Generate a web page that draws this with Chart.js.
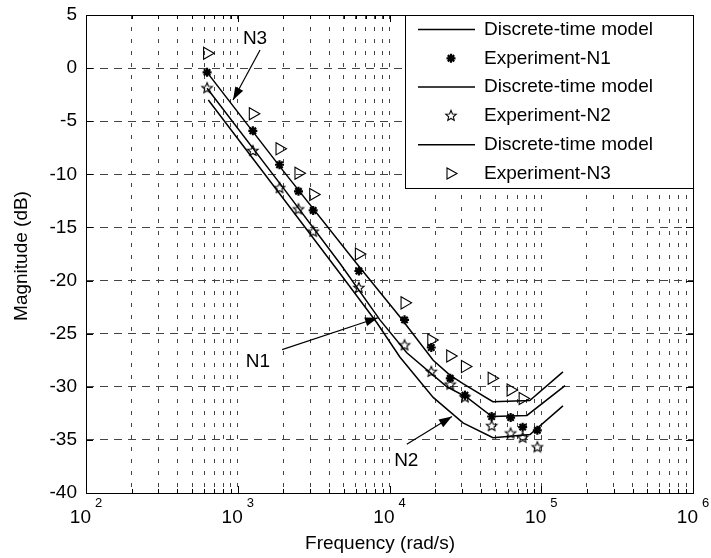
<!DOCTYPE html>
<html>
<head>
<meta charset="utf-8">
<script src="https://cdn.jsdelivr.net/npm/chart.js"></script>
<style>
html, body { margin: 0; padding: 0; background: #fff; }
#wrap { width: 711px; height: 558px; }
</style>
</head>
<body>
<div id="wrap"><canvas id="bode" width="711" height="558"></canvas></div>
<script>
// measured points (frequency in rad/s, magnitude in dB)
const expFreq = [628, 1257, 1885, 2513, 3142, 6283, 12566, 18850, 25133, 31416, 47124, 62832, 75398, 94248];
const expN1 = [-0.4, -5.9, -9.1, -11.6, -13.4, -19.1, -23.7, -26.3, -29.2, -30.8, -32.8, -32.9, -33.8, -34.1];
const expN2 = [-1.9, -7.8, -11.3, -13.3, -15.4, -20.7, -26.1, -28.6, -29.8, -31.0, -33.7, -34.4, -34.8, -35.7];
const expN3 = [1.4, -4.3, -7.6, -9.9, -11.9, -17.5, -22.1, -25.6, -27.1, -28.1, -29.2, -30.3, -31.1];

// discrete-time model curves
const modelFreqN1 = [628, 2000, 4720, 8650, 13000, 23900, 32400, 47300, 80500, 143500];
const modelN1 = [-1.9, -11.3, -18.4, -23.7, -26.8, -30.0, -31.0, -32.8, -32.7, -29.9];
const modelFreqN2 = [640, 2000, 5000, 8280, 11700, 19400, 30500, 48100, 84300, 139000];
const modelN2 = [-3.0, -12.3, -19.8, -24.0, -27.2, -31.0, -33.4, -34.8, -34.5, -31.8];
const modelFreqN3 = [628, 2000, 6000, 11700, 19400, 25000, 30500, 48000, 84000, 139000];
const modelN3 = [-0.4, -9.7, -18.3, -23.4, -27.5, -28.9, -29.7, -31.4, -31.3, -28.6];

// axes
const yTicks = [5, 0, -5, -10, -15, -20, -25, -30, -35, -40];
const xExponents = [2, 3, 4, 5, 6];
const legendLabels = ['Discrete-time model', 'Experiment-N1', 'Discrete-time model', 'Experiment-N2', 'Discrete-time model', 'Experiment-N3'];

// N1/N2/N3 labels with arrows (data coordinates)
const notes = [
    { text: 'N3', at: [1300, 2.8], from: [1403, 1.7], to: [931, -3.0] },
    { text: 'N1', at: [1360, -27.6], from: [1960, -26.5], to: [8400, -23.5] },
    { text: 'N2', at: [12900, -37.0], from: [13000, -35.4], to: [25800, -32.8] }
];

const FONT = '"Liberation Sans", Arial, sans-serif';

function pts(xs, ys) {
    return ys.map((v, i) => ({ x: xs[i], y: v }));
}

// hollow five-pointed star for N2
function pentagram(r, lw) {
    const c = document.createElement('canvas');
    const s = Math.ceil(2 * r + 2 * lw + 2);
    c.width = c.height = s;
    const g = c.getContext('2d');
    g.beginPath();
    for (let i = 0; i < 10; i++) {
        const rr = i % 2 ? r * 0.45 : r;
        const ang = -Math.PI / 2 + i * Math.PI / 5;
        g.lineTo(s / 2 + rr * Math.cos(ang), s / 2 + rr * Math.sin(ang));
    }
    g.closePath();
    g.lineWidth = lw;
    g.strokeStyle = '#000';
    g.stroke();
    return c;
}
const starImg = pentagram(5.5, 1.1);

function drawMarker(ctx, kind, x, y) {
    ctx.save();
    ctx.strokeStyle = '#000';
    if (kind === 'star') {
        ctx.lineWidth = 2.2;
        ctx.beginPath();
        for (let k = 0; k < 4; k++) {
            const a = k * Math.PI / 4;
            ctx.moveTo(x - 4.5 * Math.cos(a), y - 4.5 * Math.sin(a));
            ctx.lineTo(x + 4.5 * Math.cos(a), y + 4.5 * Math.sin(a));
        }
        ctx.stroke();
    } else if (kind === 'pent') {
        ctx.drawImage(starImg, x - starImg.width / 2, y - starImg.height / 2);
    } else if (kind === 'tri') {
        ctx.lineWidth = 1.1;
        ctx.beginPath();
        ctx.moveTo(x + 6, y);
        ctx.lineTo(x - 4, y - 5.5);
        ctx.lineTo(x - 4, y + 5.5);
        ctx.closePath();
        ctx.stroke();
    } else {
        ctx.lineWidth = 1.5;
        ctx.beginPath();
        ctx.moveTo(x - 33, y);
        ctx.lineTo(x + 24, y);
        ctx.stroke();
    }
    ctx.restore();
}

// box, ticks, labels, legend and notes
const frame = {
    id: 'frame',
    afterDraw(chart) {
        const { ctx, chartArea: a, scales: { x, y } } = chart;
        ctx.save();
        ctx.strokeStyle = '#000';
        ctx.lineWidth = 1;
        ctx.strokeRect(a.left + 0.5, a.top + 0.5, a.right - a.left, a.bottom - a.top);

        // inward tick marks
        ctx.beginPath();
        x.ticks.forEach(t => {
            const px = Math.round(x.getPixelForValue(t.value)) + 0.5;
            const len = t.major ? 7 : 4;
            ctx.moveTo(px, a.bottom); ctx.lineTo(px, a.bottom - len);
            ctx.moveTo(px, a.top); ctx.lineTo(px, a.top + len);
        });
        yTicks.forEach(v => {
            const py = Math.round(y.getPixelForValue(v)) + 0.5;
            ctx.moveTo(a.left, py); ctx.lineTo(a.left + 7, py);
            ctx.moveTo(a.right, py); ctx.lineTo(a.right - 7, py);
        });
        ctx.stroke();

        ctx.fillStyle = '#000';
        ctx.font = '19px ' + FONT;
        ctx.textAlign = 'right';
        ctx.textBaseline = 'middle';
        yTicks.forEach(v => ctx.fillText(String(v), a.left - 9, y.getPixelForValue(v)));

        xExponents.forEach(e => {
            const px = x.getPixelForValue(Math.pow(10, e));
            ctx.font = '19px ' + FONT;
            ctx.textAlign = 'right';
            ctx.fillText('10', px + 5, 518);
            ctx.font = '13px ' + FONT;
            ctx.textAlign = 'left';
            ctx.fillText(String(e), px + 9, 503);
        });

        ctx.font = '19px ' + FONT;
        ctx.textAlign = 'center';
        ctx.fillText('Frequency (rad/s)', 380, 544);
        ctx.save();
        ctx.translate(22, 256);
        ctx.rotate(-Math.PI / 2);
        ctx.fillText('Magnitude (dB)', 0, 0);
        ctx.restore();

        // legend
        const lx = 405, ly = a.top, lw = a.right - lx, lh = 173;
        ctx.fillStyle = '#fff';
        ctx.fillRect(lx, ly, lw, lh);
        ctx.strokeRect(lx + 0.5, ly + 0.5, lw, lh);
        const kinds = ['line', 'star', 'line', 'pent', 'line', 'tri'];
        ctx.fillStyle = '#000';
        ctx.textAlign = 'left';
        legendLabels.forEach((lab, i) => {
            const ry = ly + 14.5 + i * 28.8;
            drawMarker(ctx, kinds[i], 451, ry);
            ctx.fillText(lab, 484, ry);
        });

        // notes with arrows
        notes.forEach(n => {
            const tx = x.getPixelForValue(n.at[0]), ty = y.getPixelForValue(n.at[1]);
            const fx = x.getPixelForValue(n.from[0]), fy = y.getPixelForValue(n.from[1]);
            const hx = x.getPixelForValue(n.to[0]), hy = y.getPixelForValue(n.to[1]);
            ctx.textAlign = 'center';
            ctx.fillText(n.text, tx, ty);
            ctx.lineWidth = 1.2;
            ctx.beginPath();
            ctx.moveTo(fx, fy); ctx.lineTo(hx, hy);
            ctx.stroke();
            const ang = Math.atan2(hy - fy, hx - fx);
            ctx.beginPath();
            ctx.moveTo(hx, hy);
            ctx.lineTo(hx - 13 * Math.cos(ang) + 4.5 * Math.sin(ang), hy - 13 * Math.sin(ang) - 4.5 * Math.cos(ang));
            ctx.lineTo(hx - 13 * Math.cos(ang) - 4.5 * Math.sin(ang), hy - 13 * Math.sin(ang) + 4.5 * Math.cos(ang));
            ctx.closePath();
            ctx.fill();
        });
        ctx.restore();
    }
};

const modelStyle = { showLine: true, borderColor: '#000', borderWidth: 1.5, pointRadius: 0, tension: 0, fill: false };

new Chart(document.getElementById('bode'), {
    type: 'scatter',
    data: {
        datasets: [
            { label: legendLabels[0], data: pts(modelFreqN1, modelN1), ...modelStyle },
            { label: legendLabels[1], data: pts(expFreq, expN1), pointStyle: 'star', pointRadius: 4.5,
              borderColor: '#000', borderWidth: 2.2, backgroundColor: '#000' },
            { label: legendLabels[2], data: pts(modelFreqN2, modelN2), ...modelStyle },
            { label: legendLabels[3], data: pts(expFreq, expN2), pointStyle: starImg, pointRadius: 5 },
            { label: legendLabels[4], data: pts(modelFreqN3, modelN3), ...modelStyle },
            { label: legendLabels[5], data: pts(expFreq, expN3), pointStyle: 'triangle', pointRotation: 90,
              pointRadius: 7, borderColor: '#000', borderWidth: 1.1, backgroundColor: 'rgba(0,0,0,0)' }
        ]
    },
    options: {
        responsive: false,
        animation: false,
        layout: { padding: { left: 86, top: 15, right: 18, bottom: 65 } },
        plugins: { legend: { display: false }, tooltip: { enabled: false } },
        scales: {
            x: {
                type: 'logarithmic', min: 100, max: 1e6,
                ticks: { display: false },
                grid: { color: '#444', lineWidth: 1, drawTicks: false },
                border: { display: false, dash: [4, 8] },
                afterBuildTicks(scale) {
                    const t = [];
                    for (let e = 2; e <= 5; e++) {
                        for (let m = 1; m <= 9; m++) t.push({ value: m * Math.pow(10, e), major: m === 1 });
                    }
                    t.push({ value: 1e6, major: true });
                    scale.ticks = t;
                },
                afterFit(scale) { scale.height = 0; }
            },
            y: {
                min: -40, max: 5,
                ticks: { display: false, stepSize: 5 },
                grid: { color: '#444', lineWidth: 1, drawTicks: false },
                border: { display: false, dash: [8, 6] },
                afterFit(scale) { scale.width = 0; }
            }
        }
    },
    plugins: [frame]
});
</script>
</body>
</html>
